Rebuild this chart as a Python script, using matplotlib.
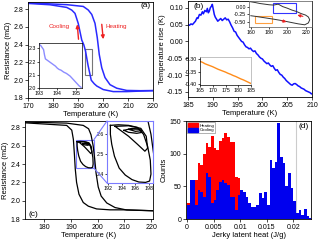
import matplotlib
matplotlib.use('Agg')
import matplotlib.pyplot as plt
import numpy as np
from matplotlib.patches import Rectangle, Patch, ConnectionPatch

plt.rcParams['font.family'] = ['Liberation Sans', 'DejaVu Sans']
plt.rcParams['axes.linewidth'] = 0.6
plt.rcParams['xtick.major.width'] = 0.5
plt.rcParams['ytick.major.width'] = 0.5
plt.rcParams['xtick.major.size'] = 2
plt.rcParams['ytick.major.size'] = 2
plt.rcParams['xtick.major.pad'] = 1.5
plt.rcParams['ytick.major.pad'] = 1.5

# ---------------- data (a) ----------------
a_cool_T = [170, 178.8, 185.5, 187.5, 188.8, 190.1, 191.5, 192.3, 193.0, 194.0, 195.3, 196.5, 197.5, 200.1, 204.1, 209.5, 215, 220]
a_cool_R = [2.864, 2.849, 2.819, 2.789, 2.752, 2.639, 2.452, 2.40, 2.33, 2.17, 2.00, 1.96, 1.935, 1.895, 1.872, 1.872, 1.878, 1.882]
a_heat_T = [170, 185.5, 192.1, 194.1, 195.5, 196.8, 197.7, 198.5, 199.5, 200.8, 202.8, 205.5, 209.5, 215, 220]
a_heat_R = [2.87, 2.85, 2.83, 2.79, 2.74, 2.64, 2.48, 2.29, 2.14, 2.03, 1.95, 1.91, 1.885, 1.882, 1.884]
a_in_T = [193.0, 193.1, 193.2, 193.25, 193.3, 193.35, 193.45, 193.6, 193.75, 193.9, 194.0, 194.1, 194.2, 194.35,
          194.5, 194.6, 194.7, 194.8, 194.9, 195.0, 195.1, 195.2, 195.3]
a_in_R = [2.33, 2.32, 2.30, 2.29, 2.25, 2.22, 2.21, 2.195, 2.18, 2.165, 2.15, 2.14, 2.135, 2.12,
          2.11, 2.10, 2.09, 2.075, 2.06, 2.045, 2.03, 2.015, 2.005]

# ---------------- data (b) ----------------
b_T = [185.0, 185.3, 185.6, 185.9, 186.2, 186.5, 186.8, 187.0, 187.3, 187.6, 187.9, 188.1, 188.4, 188.7, 188.9,
       189.1, 189.3, 189.5, 189.7, 189.9, 190.1, 190.3, 190.5, 190.8, 191.0, 191.3, 191.6, 191.9, 192.2, 192.5,
       192.8, 193.1, 193.4, 193.7, 194.0, 194.3, 194.6, 194.9, 195.2, 195.5, 195.8, 196.1, 196.4, 196.7, 197.0,
       197.3, 197.6, 197.9, 198.2, 198.5, 198.8, 199.1, 199.4, 199.7, 200.0, 200.3, 200.6, 200.9, 201.2, 201.5,
       201.8, 202.1, 202.4, 202.7, 203.0, 203.3, 203.6, 203.9, 204.2, 204.5, 204.8, 205.1, 205.4, 205.7, 206.0,
       206.3, 206.6, 206.9, 207.2, 207.5, 207.8, 208.1, 208.4, 208.7, 209.0, 209.3, 209.6, 209.9, 210.0]
b_rise = [0.050, 0.048, 0.052, 0.050, 0.055, 0.060, 0.070, 0.068, 0.080, 0.078, 0.088, 0.082, 0.092, 0.088, 0.098,
          0.085, 0.090, 0.100, 0.104, 0.110, 0.095, 0.080, 0.072, 0.065, 0.060, 0.064, 0.068, 0.062, 0.066, 0.070,
          0.064, 0.066, 0.058, 0.048, 0.040, 0.030, 0.028, 0.018, 0.012, 0.006, 0.000, -0.002, -0.010, -0.016, -0.018,
          -0.022, -0.020, -0.026, -0.030, -0.028, -0.036, -0.040, -0.046, -0.050, -0.052, -0.058, -0.062, -0.066, -0.064, -0.070,
          -0.074, -0.072, -0.080, -0.086, -0.084, -0.092, -0.098, -0.100, -0.106, -0.110, -0.116, -0.120, -0.124, -0.128, -0.130,
          -0.126, -0.125, -0.128, -0.132, -0.134, -0.138, -0.140, -0.142, -0.146, -0.148, -0.150, -0.152, -0.156, -0.155]
b_loop_T = [159, 165, 170, 175, 180, 185, 190, 195, 200, 205, 210, 215, 220, 223, 224.5, 223, 219,
            212, 205, 195, 185, 175, 165, 160]
b_loop_v = [0.16, 0.13, 0.10, 0.08, 0.06, 0.05, 0.08, 0.0, -0.05, -0.11, -0.155, -0.22, -0.27, -0.33, -0.42, -0.52, -0.58,
            -0.55, -0.51, -0.45, -0.40, -0.355, -0.31, -0.29]
b_or_T = [165, 166, 167, 168, 169, 170, 171, 172, 173, 174, 175, 176, 177, 178, 179, 180, 181, 182, 183, 184, 185]
b_or_v = [-0.308, -0.312, -0.318, -0.322, -0.326, -0.330, -0.335, -0.340, -0.344, -0.348, -0.352, -0.357, -0.361,
          -0.366, -0.370, -0.375, -0.380, -0.384, -0.389, -0.394, -0.399]

# ---------------- data (c) ----------------
c_heat_T = [172.8, 188.4, 194.6, 196.6, 197.5, 198.3, 198.9, 199.4, 200.2, 201.3, 203.4, 206.5, 210.9, 220.7]
c_heat_R = [2.858, 2.847, 2.822, 2.785, 2.72, 2.60, 2.45, 2.30, 2.15, 2.05, 1.975, 1.925, 1.898, 1.89]
c_cool_T = [172.8, 188.4, 190.3, 190.9, 191.3, 191.6, 192.1, 193.0, 194.6, 196.5, 199.6, 204.6, 210.9, 220.7]
c_cool_R = [2.85, 2.822, 2.77, 2.67, 2.50, 2.35, 2.20, 2.07, 1.98, 1.94, 1.91, 1.90, 1.90, 1.89]
c_loop1_T = [192.3, 193.5, 195.0, 196.3, 197.2, 197.8, 198.2, 198.3, 198.1, 197.5, 196.5, 195.5, 194.5, 193.6, 192.9, 192.5, 192.3, 192.3]
c_loop1_R = [2.645, 2.648, 2.645, 2.635, 2.60, 2.54, 2.47, 2.40, 2.365, 2.358, 2.36, 2.372, 2.395, 2.43, 2.49, 2.55, 2.60, 2.645]
c_loop2_T = [193.0, 195.0, 196.8, 197.6, 197.8, 197.4, 196.3, 195.0, 193.8, 193.0]
c_loop2_R = [2.64, 2.643, 2.63, 2.59, 2.53, 2.515, 2.55, 2.59, 2.62, 2.64]
c_loop3_T = [194.3, 195.5, 196.6, 197.0, 196.2, 195.0, 194.3]
c_loop3_R = [2.62, 2.63, 2.625, 2.61, 2.605, 2.61, 2.62]
c_loop4_T = [195.0, 196.5, 196.9, 196.0, 195.0]
c_loop4_R = [2.625, 2.628, 2.618, 2.615, 2.625]

# ---------------- data (d) ----------------
d_bin_width = 0.0005
d_cool = [21, 60, 60, 21, 44, 42, 34, 70, 65, 24, 29, 44, 57, 60, 55, 52, 34, 34, 14, 37, 44, 42, 34, 24,
          19, 18, 21, 40, 32, 42, 21, 91, 78, 88, 147, 95, 85, 50, 70, 47, 27, 9, 14, 6, 16, 4, 1]
d_heat = [24, 0, 60, 60, 85, 83, 100, 116, 110, 127, 108, 106, 120, 124, 132, 126, 118, 118, 65, 62, 24, 0]

fig = plt.figure(figsize=(3.2, 2.4), dpi=100)
W, H = 320.0, 240.0
def rect(l, r, t, b):
    return [l / W, 1 - b / H, (r - l) / W, (b - t) / H]

TICK = 5
LAB = 5.5
INS = 3.8

# ---------------- panel (a) ----------------
ax = fig.add_axes(rect(28, 153, 2, 98))
ax.plot(a_cool_T, a_cool_R, color='#2a2aff', lw=1.1)
ax.plot(a_heat_T, a_heat_R, color='#2a2aff', lw=1.1)
ax.set_xlim(170, 220)
ax.set_ylim(1.8, 2.88)
ax.set_xticks([170, 180, 190, 200, 210, 220])
ax.set_yticks([1.8, 2.0, 2.2, 2.4, 2.6, 2.8])
ax.tick_params(labelsize=TICK)
ax.set_xlabel('Temperature (K)', fontsize=LAB, labelpad=1)
ax.set_ylabel('Resistance (mΩ)', fontsize=LAB, labelpad=1)
ax.add_patch(Rectangle((192.9, 2.06), 2.7, 0.29, fill=False, ec='#777777', lw=0.8))
ax.annotate('', xy=(189.6, 2.66), xytext=(190.3, 2.43),
            arrowprops=dict(arrowstyle='-|>', color='#ee2222', lw=1.0, mutation_scale=5))
ax.annotate('', xy=(200.2, 2.43), xytext=(199.4, 2.66),
            arrowprops=dict(arrowstyle='-|>', color='#ee2222', lw=1.0, mutation_scale=5))
ax.text(182.5, 2.6, 'Cooling', color='#ee2222', fontsize=4.5, ha='center', va='center')
ax.text(205.5, 2.6, 'Heating', color='#ee2222', fontsize=4.5, ha='center', va='center')
ax.text(219, 2.845, '(a)', fontsize=6, ha='right', va='center')

axi = fig.add_axes(rect(39, 82, 43, 88))
axi.plot(a_in_T, a_in_R, color='#8c8cff', lw=1.0)
axi.set_xlim(193, 195.35)
axi.set_ylim(2.0, 2.34)
axi.set_xticks([193, 194, 195])
axi.set_yticks([2.0, 2.1, 2.2, 2.3])
axi.tick_params(labelsize=INS, length=1.2, pad=1)
for s in axi.spines.values():
    s.set_linewidth(0.5)

# ---------------- panel (b) ----------------
bx = fig.add_axes(rect(188, 312, 1, 97))
bx.plot(b_T, b_rise, color='#1010ff', lw=1.1)
bx.set_xlim(185, 210)
bx.set_ylim(-0.165, 0.12)
bx.set_xticks([185, 190, 195, 200, 205, 210])
bx.set_yticks([-0.15, -0.10, -0.05, 0.0, 0.05, 0.10])
bx.set_yticklabels(['-0.15', '-0.10', '-0.05', '0.00', '0.05', '0.10'])
bx.tick_params(labelsize=TICK)
bx.set_xlabel('Temperature (K)', fontsize=LAB, labelpad=1)
bx.set_ylabel('Temperature rise (K)', fontsize=LAB, labelpad=1)
bx.text(186.2, 0.104, '(b)', fontsize=6, ha='left', va='center')

bi1 = fig.add_axes(rect(249, 312, 1, 27))
bi1.plot(b_loop_T, b_loop_v, color='#333333', lw=0.7)
bi1.set_xlim(158, 227)
bi1.set_ylim(-0.65, 0.18)
bi1.set_xticks([160, 180, 200, 220])
bi1.set_yticks([-0.5, -0.25, 0.0])
bi1.set_yticklabels(['-0.50', '-0.25', '0.00'])
bi1.tick_params(labelsize=INS, length=1.2, pad=0.8)
bi1.add_patch(Rectangle((184, -0.21), 26, 0.32, fill=False, ec='#3333ff', lw=0.8))
bi1.add_patch(Rectangle((164.5, -0.53), 18.5, 0.24, fill=False, ec='#ffa040', lw=0.8))
bi1.annotate('', xy=(208, -0.25), xytext=(220, -0.33),
             arrowprops=dict(arrowstyle='-|>', color='#ee2222', lw=0.8, mutation_scale=4))
bi1.annotate('', xy=(202, -0.51), xytext=(191, -0.43),
             arrowprops=dict(arrowstyle='-|>', color='#ee2222', lw=0.8, mutation_scale=4))
for s in bi1.spines.values():
    s.set_linewidth(0.5)
    s.set_color('#555555')

bi2 = fig.add_axes(rect(200, 251, 57, 85))
bi2.plot(b_or_T, b_or_v, color='#ff8c1a', lw=1.0)
bi2.set_xlim(165, 185)
bi2.set_ylim(-0.405, -0.29)
bi2.set_xticks([165, 170, 175, 180, 185])
bi2.set_yticks([-0.40, -0.35, -0.30])
bi2.set_yticklabels(['-0.40', '-0.35', '-0.30'])
bi2.tick_params(labelsize=INS, length=1.2, pad=0.8)
for s in bi2.spines.values():
    s.set_linewidth(0.5)
bi2.spines['top'].set_color('#aaaaaa')
bi2.spines['right'].set_color('#aaaaaa')

# ---------------- panel (c) ----------------
cx = fig.add_axes(rect(25, 153, 121, 219))
for tt, rr in [(c_heat_T, c_heat_R), (c_cool_T, c_cool_R), (c_loop1_T, c_loop1_R),
               (c_loop2_T, c_loop2_R), (c_loop3_T, c_loop3_R), (c_loop4_T, c_loop4_R)]:
    cx.plot(tt, rr, color='black', lw=0.9)
cx.set_xlim(172.8, 220.7)
cx.set_ylim(1.8, 2.87)
cx.set_xticks([180, 190, 200, 210, 220])
cx.set_yticks([1.8, 2.0, 2.2, 2.4, 2.6, 2.8])
cx.tick_params(labelsize=TICK)
cx.set_xlabel('Temperature (K)', fontsize=LAB, labelpad=1)
cx.set_ylabel('Resistance (mΩ)', fontsize=LAB, labelpad=1)
cx.text(174, 1.845, '(c)', fontsize=6, ha='left', va='center')
zx0, zx1, zy0, zy1 = 191.8, 198.6, 2.355, 2.667
lc = '#7b7bff'
cx.add_patch(Rectangle((zx0, zy0), zx1 - zx0, zy1 - zy0, fill=False, ec=lc, lw=0.8))

ci = fig.add_axes(rect(107, 153, 121, 183))
for tt, rr in [(c_heat_T, c_heat_R), (c_cool_T, c_cool_R), (c_loop1_T, c_loop1_R),
               (c_loop2_T, c_loop2_R), (c_loop3_T, c_loop3_R), (c_loop4_T, c_loop4_R)]:
    ci.plot(tt, rr, color='black', lw=0.9)
ci.set_xlim(zx0, zx1)
ci.set_ylim(zy0, zy1)
ci.set_xticks([192, 194, 196, 198])
ci.set_yticks([2.4, 2.5, 2.6])
ci.tick_params(labelsize=INS, length=1.2, pad=0.8)
for s in ci.spines.values():
    s.set_linewidth(0.8)
    s.set_color(lc)
for (xa, ya, xb, yb) in [(zx1, zy1, 0, 1), (zx1, zy0, 0, 0)]:
    con = ConnectionPatch(xyA=(xa, ya), coordsA=cx.transData, xyB=(xb, yb), coordsB=ci.transAxes,
                          color=lc, lw=0.8)
    fig.add_artist(con)

# ---------------- panel (d) ----------------
dx = fig.add_axes(rect(186, 311, 121, 219))
cool_left = [d_bin_width * i for i in range(len(d_cool))]
heat_left = [d_bin_width * i for i in range(len(d_heat))]
dx.bar(heat_left, d_heat, width=d_bin_width, align='edge', color='#ff0000', lw=0, zorder=2)
dx.bar(cool_left, d_cool, width=d_bin_width, align='edge', color='#0000ee', lw=0, zorder=3)
dx.axvline(0.0205, color='#cccccc', lw=0.8, zorder=1)
dx.set_xlim(-0.0002, 0.0233)
dx.set_ylim(0, 150)
dx.set_xticks([0, 0.005, 0.01, 0.015, 0.02])
dx.set_xticklabels(['0', '0.005', '0.01', '0.015', '0.02'])
dx.set_yticks([0, 50, 100, 150])
dx.tick_params(labelsize=TICK)
dx.set_xlabel('Jerky latent heat (J/g)', fontsize=LAB, labelpad=1)
dx.set_ylabel('Counts', fontsize=LAB, labelpad=1)
dx.text(0.0228, 141, '(d)', fontsize=6, ha='right', va='center')
leg = dx.legend(handles=[Patch(color='#ff0000', label='Heating'), Patch(color='#0000ee', label='Cooling')],
                loc='upper left', fontsize=3.2, frameon=True, handlelength=2.2, handleheight=0.9,
                borderpad=0.2, labelspacing=0.1, handletextpad=0.3, borderaxespad=0.3, fancybox=False)
leg.get_frame().set_linewidth(0.4)
leg.get_frame().set_edgecolor('#555555')

fig.savefig('out.png', dpi=100)
